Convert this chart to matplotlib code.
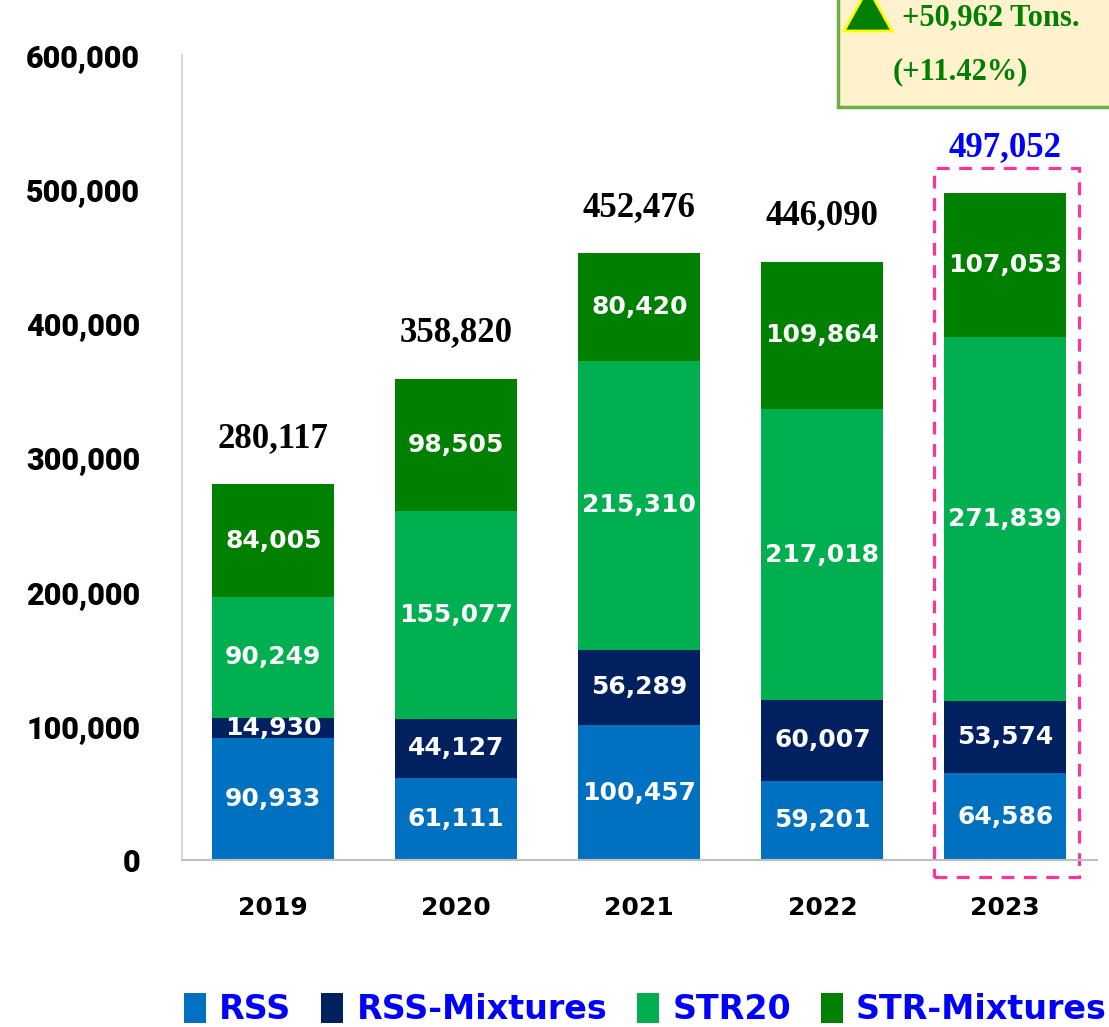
import matplotlib
matplotlib.use("Agg")
import matplotlib.pyplot as plt
from matplotlib.patches import Patch, Rectangle, Polygon
from matplotlib.ticker import FuncFormatter

years = ["2019", "2020", "2021", "2022", "2023"]
rss = [90933, 61111, 100457, 59201, 64586]
rss_mix = [14930, 44127, 56289, 60007, 53574]
str20 = [90249, 155077, 215310, 217018, 271839]
str_mix = [84005, 98505, 80420, 109864, 107053]
totals = [280117, 358820, 452476, 446090, 497052]

series = [
    ("RSS", rss, "#0070C0"),
    ("RSS-Mixtures", rss_mix, "#002060"),
    ("STR20", str20, "#00B050"),
    ("STR-Mixtures", str_mix, "#008000"),
]

fig = plt.figure(figsize=(11.09, 10.27), dpi=100)
ax = fig.add_axes([0.164, 0.1626, 0.825, 0.7838])

x = list(range(len(years)))
bottom = [0] * len(years)
for name, vals, color in series:
    ax.bar(x, vals, width=0.667, bottom=bottom, color=color, label=name)
    for xi, b, v in zip(x, bottom, vals):
        ax.text(xi, b + v / 2, f"{v:,}", ha="center", va="center",
                color="white", fontsize=18, fontweight="bold",
                family="DejaVu Sans")
    bottom = [b + v for b, v in zip(bottom, vals)]

# totals above bars
for xi, t in zip(x, totals):
    color = "#0000FF" if xi == len(years) - 1 else "black"
    ax.annotate(f"{t:,}", (xi, t), xytext=(0, 33), textcoords="offset points",
                ha="center", va="center", fontsize=25, fontweight="bold",
                family="Liberation Serif", color=color)

ax.set_xlim(-0.5, 4.5)
ax.set_ylim(0, 600000)
ax.set_yticks(range(0, 600001, 100000))
ax.yaxis.set_major_formatter(FuncFormatter(lambda v, p: f"{int(v):,}"))
ax.set_xticks(x)
ax.set_xticklabels(years)
ax.tick_params(axis="both", length=0)
ax.tick_params(axis="y", pad=30)
ax.tick_params(axis="x", pad=26)
for lab in ax.get_yticklabels():
    lab.set_fontfamily("Roboto")
    lab.set_fontweight("black")
    lab.set_fontsize(22)
for lab in ax.get_xticklabels():
    lab.set_fontfamily("DejaVu Sans")
    lab.set_fontweight("bold")
    lab.set_fontsize(18)

for s in ["top", "right"]:
    ax.spines[s].set_visible(False)
ax.spines["left"].set_color("#D9D9D9")
ax.spines["left"].set_linewidth(1.5)
ax.spines["bottom"].set_color("#BFBFBF")
ax.spines["bottom"].set_linewidth(1.5)

# dashed highlight around 2023
ax.add_patch(Rectangle((3.612, -12700), 0.792, 528300, fill=False,
                       edgecolor="#FF3399", linewidth=2.3,
                       linestyle=(0, (4, 3)), clip_on=False))

# change box at top right
W, H = 1109, 1027
def fx(px):
    return px / W
def fy(py):
    return 1 - py / H

fig.patches.append(Rectangle((fx(838), fy(107)), fx(300), 0.2,
                             transform=fig.transFigure, facecolor="#FFF2CC",
                             edgecolor="#70AD47", linewidth=2.5))
fig.patches.append(Polygon([(fx(844), fy(31)), (fx(892), fy(31)), (fx(868), fy(-12))],
                           closed=True, transform=fig.transFigure,
                           facecolor="#008000", edgecolor="#FFFF00", linewidth=2))
fig.text(fx(902), fy(18), "+50,962 Tons.", ha="left", va="center",
         fontsize=22, fontweight="bold", family="Liberation Serif", color="#008000")
fig.text(fx(893), fy(72), "(+11.42%)", ha="left", va="center",
         fontsize=22, fontweight="bold", family="Liberation Serif", color="#008000")

handles = [Patch(facecolor=c, label=n) for n, _, c in series]
leg = fig.legend(handles=handles, loc="center", bbox_to_anchor=(0.582, 0.017),
                 ncol=4, frameon=False, handlelength=0.65, handleheight=1.0,
                 handletextpad=0.4, columnspacing=0.9,
                 prop={"family": "DejaVu Sans", "weight": "bold", "size": 24})
for t in leg.get_texts():
    t.set_color("#0000FF")

fig.savefig("out.png", dpi=100)
